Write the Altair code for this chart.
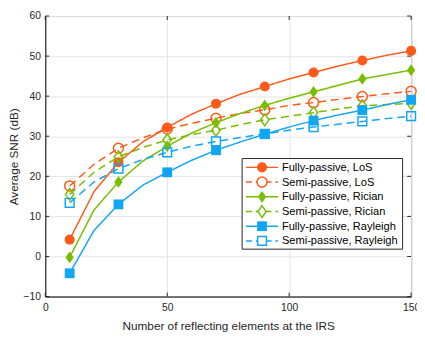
import altair as alt
import pandas as pd

x_vals = [10, 20, 30, 40, 50, 60, 70, 80, 90, 100, 110, 120, 130, 140, 150]
fully_los = [4.2, 16.2, 23.5, 28.6, 32.2, 35.5, 38.1, 40.5, 42.4, 44.3, 45.9, 47.5, 48.9, 50.2, 51.3]
semi_los = [17.6, 23.0, 27.0, 29.6, 31.8, 33.2, 34.5, 35.7, 36.6, 37.7, 38.4, 39.2, 39.9, 40.6, 41.2]
fully_rician = [-0.2, 11.6, 18.6, 23.8, 27.5, 30.8, 33.4, 35.7, 37.7, 39.5, 41.1, 42.7, 44.3, 45.4, 46.5]
semi_rician = [15.5, 21.0, 24.9, 27.2, 29.1, 30.4, 31.5, 32.9, 34.1, 35.0, 35.9, 36.8, 37.6, 37.9, 38.2]
fully_rayleigh = [-4.2, 6.5, 13.0, 17.8, 21.0, 24.0, 26.5, 28.6, 30.5, 32.3, 33.9, 35.3, 36.5, 37.9, 39.1]
semi_rayleigh = [13.4, 18.6, 21.9, 24.2, 26.0, 27.5, 28.7, 29.7, 30.6, 31.5, 32.3, 33.0, 33.7, 34.4, 35.0]
marker_x = [10, 30, 50, 70, 90, 110, 130, 150]

series_names = ["Fully-passive, LoS", "Semi-passive, LoS",
                "Fully-passive, Rician", "Semi-passive, Rician",
                "Fully-passive, Rayleigh", "Semi-passive, Rayleigh"]
series_values = [fully_los, semi_los, fully_rician, semi_rician, fully_rayleigh, semi_rayleigh]
series_colors = ["#FF5A1A", "#FF5A1A", "#78BE00", "#78BE00", "#12A6F2", "#12A6F2"]
DIAMOND = "M0,-1.2L0.85,0L0,1.2L-0.85,0Z"
series_shapes = ["circle", "circle", DIAMOND, DIAMOND, "square", "square"]
series_filled = [True, False, True, False, True, False]
series_dash = [[1, 0], [8, 5], [1, 0], [8, 5], [1, 0], [8, 5]]
series_size = [105, 105, 100, 100, 100, 80]

y_ticks = [-10, 0, 10, 20, 30, 40, 50, 60]
x_ticks = [0, 50, 100, 150]

W, H = 373, 286
FONT = "Liberation Sans"
TXT = "#262626"

rows = []
for name, vals in zip(series_names, series_values):
    for xv, yv in zip(x_vals, vals):
        rows.append({"series": name, "x": xv, "y": yv, "marker": xv in marker_x})
df = pd.DataFrame(rows)

xscale = alt.Scale(domain=[0, 150], nice=False, zero=False)
yscale = alt.Scale(domain=[-10, 60], nice=False, zero=False)
XAX = alt.Axis(values=x_ticks, title="Number of reflecting elements at the IRS",
               grid=True, tickSize=0, labelPadding=6, titlePadding=8,
               labelFlush=False, labelOverlap=False, labelBound=False)
YAX = alt.Axis(values=y_ticks, title="Average SNR (dB)",
               grid=True, tickSize=0, labelPadding=5, titlePadding=3,
               labelFlush=False, labelOverlap=False, labelBound=False)


def X(f):
    return alt.X(f, scale=xscale, axis=XAX)


def Y(f):
    return alt.Y(f, scale=yscale, axis=YAX)


layers = []

# inward ticks
yt_df = pd.DataFrame({"y": y_ticks})
xt_df = pd.DataFrame({"x": x_ticks})
for x0, x1 in [(0, 4), (W - 4, W)]:
    layers.append(alt.Chart(yt_df).mark_rule(color=TXT, strokeWidth=1).encode(
        y=Y("y:Q"), x=alt.value(x0), x2=alt.value(x1)))
for y0, y1 in [(0, 4), (H - 4, H)]:
    layers.append(alt.Chart(xt_df).mark_rule(color=TXT, strokeWidth=1).encode(
        x=X("x:Q"), y=alt.value(y0), y2=alt.value(y1)))

# series
for i, name in enumerate(series_names):
    sd = df[df.series == name]
    line = alt.Chart(sd).mark_line(color=series_colors[i], strokeWidth=1.5,
                                   strokeDash=series_dash[i]).encode(
        x=X("x:Q"), y=Y("y:Q"))
    pts = alt.Chart(sd[sd.marker]).mark_point(
        shape=series_shapes[i], filled=series_filled[i], size=series_size[i],
        color=series_colors[i], opacity=1, strokeWidth=1.5).encode(
        x=X("x:Q"), y=Y("y:Q"))
    layers += [line, pts]

# legend
one = pd.DataFrame({"a": [0]})
LX0, LX1, LY0, LY1 = 200.7, 364.3, 145.3, 237.7
layers.append(alt.Chart(one).mark_rect(fill="white", stroke=TXT, strokeWidth=1).encode(
    x=alt.value(LX0), x2=alt.value(LX1), y=alt.value(LY0), y2=alt.value(LY1)))
for i, name in enumerate(series_names):
    ry = 154.3 + 15 * i
    d1 = pd.DataFrame({"label": [name]})
    layers.append(alt.Chart(d1).mark_rule(color=series_colors[i], strokeWidth=1.5,
                                          strokeDash=[6, 4] if i % 2 else [1, 0]).encode(
        x=alt.value(204.7), x2=alt.value(237.3), y=alt.value(ry)))
    layers.append(alt.Chart(d1).mark_point(
        shape=series_shapes[i], filled=series_filled[i], size=series_size[i],
        color=series_colors[i], opacity=1, strokeWidth=1.5,
        fill=series_colors[i] if series_filled[i] else "white").encode(
        x=alt.value(221.0), y=alt.value(ry)))
    layers.append(alt.Chart(d1).mark_text(align="left", baseline="middle", font=FONT,
                                          fontSize=11.3, color="#000000").encode(
        x=alt.value(241.3), y=alt.value(ry + 0.5), text="label:N"))

chart = alt.layer(*layers).properties(
    width=W, height=H,
    autosize=alt.AutoSizeParams(type="none"),
    padding={"left": 38, "top": 5, "right": 6, "bottom": 35},
).configure_view(stroke=TXT, strokeWidth=1).configure_axis(
    labelFont=FONT, titleFont=FONT, labelFontSize=10.5, titleFontSize=12,
    labelColor=TXT, titleColor=TXT, titleFontWeight="normal",
    domainColor=TXT, gridColor="#e3e3e3", gridWidth=1,
)

chart.save("out.html", embed_options={"renderer": "svg", "actions": False})
